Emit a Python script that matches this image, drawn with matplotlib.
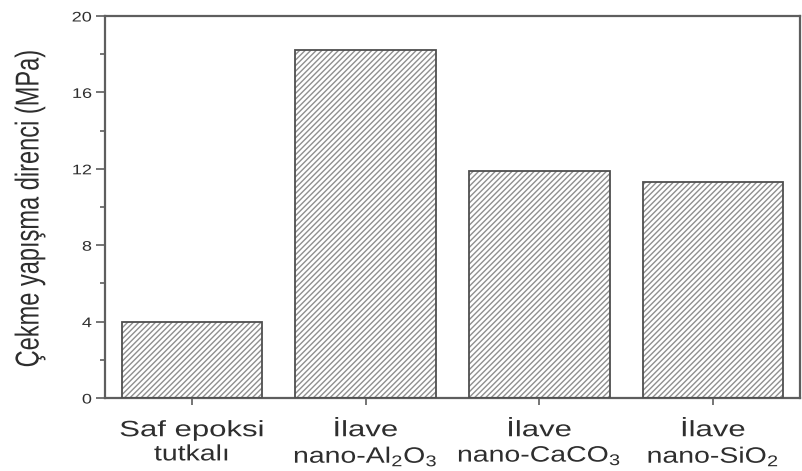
import numpy as np
import matplotlib
matplotlib.use("Agg")
import matplotlib.pyplot as plt
from matplotlib.patheffects import AbstractPathEffect
from matplotlib.transforms import Affine2D
from matplotlib.ticker import MultipleLocator

# Data
categories = ["Saf epoksi\ntutkalı",
              "İlave\nnano-Al$_2$O$_3$",
              "İlave\nnano-CaCO$_3$",
              "İlave\nnano-SiO$_2$"]
strength = [4.0, 18.2, 11.9, 11.3]
y_major = [0, 4, 8, 12, 16, 20]
y_label = "Çekme yapışma direnci (MPa)"

plt.rcParams['font.family'] = ['Liberation Sans', 'DejaVu Sans']
plt.rcParams['mathtext.default'] = 'regular'
plt.rcParams['hatch.linewidth'] = 1.0


class Widen(AbstractPathEffect):
    """Stretch the glyph outlines of each text line inside its own frame.

    ``sx`` may be a sequence: lines of a multi-line text are drawn in
    order, so the n-th entry applies to the n-th line.
    """

    def __init__(self, sx=1.0, sy=1.0, anchor="center"):
        super().__init__()
        self.sx = list(np.atleast_1d(sx))
        self.sy, self.anchor = sy, anchor
        self._n = 0

    def draw_path(self, renderer, gc, tpath, affine, rgbFace=None):
        sx = self.sx[self._n % len(self.sx)]
        self._n += 1
        ext = tpath.get_extents()
        cx = ext.x1 if self.anchor == "right" else 0.5 * (ext.x0 + ext.x1)
        cy = 0.5 * (ext.y0 + ext.y1)
        pre = (Affine2D().translate(-cx, -cy)
               .scale(sx, self.sy).translate(cx, cy))
        renderer.draw_path(gc, tpath, pre + affine, rgbFace)


W, H = 803, 471
fig = plt.figure(figsize=(W / 100, H / 100), dpi=100)
ax = fig.add_axes([105 / W, 73 / H, 695 / W, 382 / H])

x = np.arange(len(categories))
bar_w = 0.81
# hatched fill, then a darker outline on top
ax.bar(x, strength, width=bar_w, color='white', edgecolor='#8f8f8f',
       hatch='//////', linewidth=0, zorder=2)
ax.bar(x, strength, width=bar_w, fill=False, edgecolor='#4f4f4f',
       linewidth=1.3, zorder=3)

ax.set_xlim(-0.5, 3.5)
ax.set_ylim(0, 20)
ax.set_xticks(x, categories)
ax.set_yticks(y_major)
ax.yaxis.set_minor_locator(MultipleLocator(2))

axis_grey = '#5e5e5e'
text_col = '#2e2e2e'
for s in ax.spines.values():
    s.set_color(axis_grey)
    s.set_linewidth(1.6)

ax.tick_params(axis='y', which='major', direction='out', length=6.5,
               width=1.2, color=axis_grey, labelsize=10, pad=3,
               labelcolor=text_col)
ax.tick_params(axis='y', which='minor', direction='out', length=3.5,
               width=1.2, color=axis_grey)
ax.tick_params(axis='x', which='major', direction='out', length=5,
               width=1.2, color=axis_grey, labelsize=16, pad=11,
               labelcolor=text_col)

ax.set_ylabel(y_label, fontsize=17, color=text_col)
ax.yaxis.set_label_coords(-0.092, 0.497)

for t in ax.get_xticklabels():
    t.set_path_effects([Widen(sx=[1.4, 1.28])])
for t in ax.get_yticklabels():
    t.set_path_effects([Widen(sx=1.3, anchor="right")])
ax.yaxis.label.set_path_effects([Widen(sy=1.4)])

fig.savefig("out.png", dpi=100)
